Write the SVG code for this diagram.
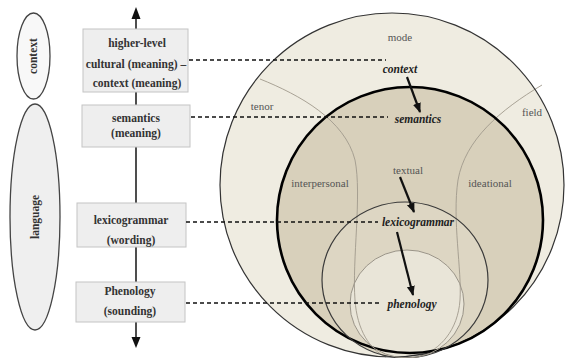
<svg xmlns="http://www.w3.org/2000/svg" width="568" height="358" viewBox="0 0 568 358">
<style>
text{font-family:'Liberation Serif','DejaVu Serif','Times New Roman',serif}
.bt{font-size:11.5px;font-weight:bold;fill:#333;text-anchor:middle}
.lb{font-size:11px;fill:#555;text-anchor:middle}
.it{font-size:11.5px;font-weight:bold;font-style:italic;fill:#222;text-anchor:middle}
.box{fill:#eeeeee;stroke:#c4c4c4;stroke-width:1}
.ell{stroke:#444;stroke-width:1.3}
.dash{stroke:#111;stroke-width:1.5;stroke-dasharray:4 3;fill:none}
.arr{stroke:#111;stroke-width:2.2;fill:none;marker-end:url(#ah)}
.div{stroke:#a09a8c;stroke-width:0.9;fill:none}
</style>
<defs>
<marker id="ah" markerUnits="userSpaceOnUse" markerWidth="10" markerHeight="10" refX="9" refY="5" orient="auto">
<path d="M0,1 L10,5 L0,9 Z" fill="#111"/>
</marker>
</defs>
<rect width="568" height="358" fill="#ffffff"/>

<g id="ellipse-context">
<ellipse class="ell" cx="33.5" cy="56" rx="16.5" ry="43" fill="#f8f8f8"/>
<text class="bt" transform="translate(37,56) rotate(-90)">context</text>
</g>
<g id="ellipse-language">
<ellipse class="ell" cx="35" cy="217" rx="25" ry="113" fill="#efefef"/>
<text class="bt" transform="translate(39,217) rotate(-90)">language</text>
</g>

<g id="axis">
<line x1="136" y1="340" x2="136" y2="18" stroke="#222" stroke-width="1.6"/>
<path d="M136,7 L131.5,19 L140.5,19 Z" fill="#111"/>
<path d="M136,348 L131.5,337 L140.5,337 Z" fill="#111"/>
</g>

<g id="circles">
<circle cx="392" cy="185" r="172" fill="#efece1"/>
<circle cx="410" cy="220" r="133" fill="#d8d0bb"/>
<ellipse cx="405" cy="280" rx="83" ry="78" fill="#ddd6c3"/>
<ellipse cx="407" cy="304" rx="57" ry="54" fill="#e9e5d8"/>
<path class="div" d="M260,79 C300,95 345,120 355,160 C362,195 352,260 355,300 C357,330 370,350 386,357"/>
<path class="div" d="M542,85 C500,110 465,140 458,180 C452,220 462,270 460,300 C458,330 440,350 420,356"/>
<circle cx="392" cy="185" r="172" fill="none" stroke="#333" stroke-width="1.2"/>
<circle cx="410" cy="220" r="133" fill="none" stroke="#000" stroke-width="2.6"/>
<ellipse cx="405" cy="280" rx="83" ry="78" fill="none" stroke="#3a3a3a" stroke-width="1.2"/>
<ellipse cx="407" cy="304" rx="57" ry="54" fill="none" stroke="#9a9488" stroke-width="1"/>
<text class="lb" x="400" y="41">mode</text>
<text class="lb" x="262" y="110">tenor</text>
<text class="lb" x="532" y="116">field</text>
<text class="lb" x="408" y="174">textual</text>
<text class="lb" x="320" y="187">interpersonal</text>
<text class="lb" x="490" y="187">ideational</text>
<text class="it" x="400" y="73">context</text>
<text class="it" x="418" y="123">semantics</text>
<text class="it" x="418" y="226">lexicogrammar</text>
<text class="it" x="412" y="308">phenology</text>
</g>

<g id="box-context">
<rect class="box" x="83" y="29" width="105" height="63"/>
<text class="bt" x="137" y="47">higher-level</text>
<text class="bt" x="136" y="68">cultural (meaning) –</text>
<text class="bt" x="137" y="87">context (meaning)</text>
</g>
<g id="box-semantics">
<rect class="box" x="82" y="105" width="108" height="42"/>
<text class="bt" x="136" y="122">semantics</text>
<text class="bt" x="136" y="137">(meaning)</text>
</g>
<g id="box-lexicogrammar">
<rect class="box" x="77" y="203" width="109" height="44"/>
<text class="bt" x="131" y="224">lexicogrammar</text>
<text class="bt" x="131" y="244">(wording)</text>
</g>
<g id="box-phenology">
<rect class="box" x="76" y="282" width="109" height="40"/>
<text class="bt" x="130" y="295">Phenology</text>
<text class="bt" x="130" y="315">(sounding)</text>
</g>

<g id="connectors">
<line class="dash" x1="189" y1="60" x2="386" y2="60"/>
<line class="dash" x1="191" y1="117" x2="388" y2="117"/>
<line class="dash" x1="186" y1="222" x2="378" y2="222"/>
<line class="dash" x1="186" y1="303" x2="381" y2="303"/>
<line class="arr" x1="407" y1="77" x2="420" y2="112"/>
<line class="arr" x1="400" y1="177" x2="414" y2="212"/>
<line class="arr" x1="397" y1="232" x2="413" y2="295"/>
</g>
</svg>
